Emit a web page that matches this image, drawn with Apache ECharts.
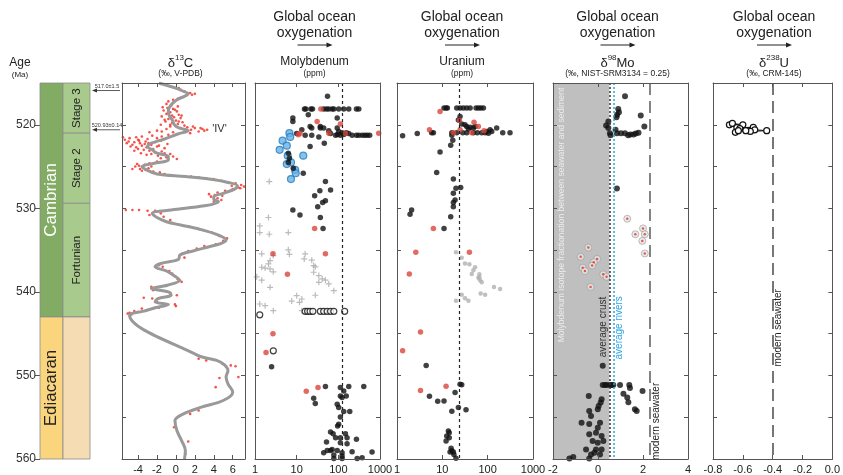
<!DOCTYPE html>
<html>
<head>
<meta charset="utf-8">
<script src="https://cdn.jsdelivr.net/npm/echarts@6/dist/echarts.min.js"></script>
<style>
  html, body { margin: 0; padding: 0; background: #fff; }
  #chart { width: 843px; height: 475px; }
</style>
</head>
<body>
<div id="chart"></div>
<script>
// ---- stratigraphy (ages in Ma) ----
const periodNames = ['Cambrian', 'Ediacaran'];
const periodTop = [515, 543];
const periodBase = [543, 560];
const stageNames = ['Stage 3', 'Stage 2', 'Fortunian', ''];
const stageTop = [515, 521, 529.4, 543];
const stageBase = [521, 529.4, 543, 560];
const dateLabels = ['517.0±1.5', '520.93±0.14'];
const dateAges = [515.9, 520.6];
const ageTicks = [520, 530, 540, 550, 560];

// ---- δ13C [value, age] ----
const c13Curve = [
  [-1.8, 515.0], [-0.9, 515.3], [0.2, 515.7], [0.6, 515.9], [1.3, 516.3], [0.9, 516.6], [0.1, 517.0],
  [-0.5, 517.6], [-0.8, 518.3], [-0.7, 518.9], [-0.4, 519.4], [-0.1, 520.1], [0.4, 520.4], [1.3, 520.7],
  [0.2, 521.1], [-1.2, 521.7], [-2.6, 522.2], [-3.0, 522.6], [-2.5, 523.0], [-2.0, 523.4], [-0.8, 523.8],
  [-0.8, 524.2], [-2.3, 524.6], [-3.6, 525.0], [-3.1, 525.4], [-2.0, 525.9], [1.0, 526.2], [3.5, 526.5],
  [5.5, 526.9], [6.5, 527.3], [6.2, 527.7], [5.0, 528.2], [4.0, 528.6], [4.0, 528.9], [4.5, 529.2],
  [3.0, 529.7], [-0.5, 530.2], [-2.5, 530.6], [-2.0, 531.1], [-1.0, 531.6], [0.5, 532.0], [2.5, 532.5],
  [4.5, 533.2], [5.3, 533.8], [4.8, 534.2], [3.5, 534.6], [1.8, 535.1], [0.4, 535.6], [0.3, 536.1],
  [-1.6, 536.6], [-2.2, 537.0], [-1.0, 537.5], [0.0, 538.2], [0.4, 538.6], [-0.9, 539.2], [-2.6, 539.6],
  [-0.8, 540.0], [-0.5, 540.4], [-1.9, 540.8], [-2.2, 541.2], [-0.8, 541.5], [-2.2, 541.9], [-3.4, 542.3],
  [-4.9, 542.8], [2.3, 547.6], [4.3, 548.2], [5.1, 548.7], [5.5, 549.4], [5.3, 550.2], [5.5, 551.0],
  [6.0, 552.0], [5.0, 553.0], [2.7, 553.8], [0.8, 554.6], [-0.1, 555.4], [0.1, 556.6], [0.6, 557.8],
  [1.0, 559.0], [0.9, 560.0]
];
const c13Red = [
  [-1.6, 515.1], [-1.2, 515.2], [-0.6, 515.4], [-0.2, 515.5], [0.3, 515.6], [0.5, 515.8], [0.9, 516.0],
  [1.5, 516.2], [2.0, 516.3], [1.7, 516.4], [1.1, 516.5], [0.6, 516.7], [0.2, 516.9], [-0.3, 517.0],
  [-0.8, 517.2], [-0.2, 517.3], [-1.0, 517.5], [-0.5, 517.7], [0.2, 517.8],
  [-0.9, 518.0], [-0.3, 518.1], [-1.3, 518.3], [0.1, 518.4], [-0.6, 518.5], [-1.0, 518.7], [0.3, 518.8],
  [-0.4, 518.9], [-1.5, 519.0], [-0.2, 519.1], [0.5, 519.2], [-0.8, 519.3], [0.0, 519.5], [-1.1, 519.6],
  [0.7, 519.7], [-0.4, 519.8], [0.2, 519.9], [-1.6, 520.0], [0.9, 520.1],
  [-1.4, 517.9], [-0.1, 518.2], [-0.8, 518.6], [0.6, 518.9], [-1.2, 519.4], [0.3, 519.6], [-0.6, 520.0],
  [1.8, 520.2], [2.6, 520.4], [3.0, 520.7], [-1.5, 520.8],
  [-0.6, 520.2], [1.2, 520.3], [2.0, 520.4], [0.5, 520.4], [2.8, 520.5], [3.3, 520.6], [1.6, 520.6],
  [-1.0, 520.5], [2.4, 520.8], [0.9, 520.8], [-2.0, 520.7], [-0.3, 520.9], [1.5, 521.0], [-2.8, 520.9],
  [-5.4, 521.8], [-4.9, 521.6], [-4.2, 521.5], [-3.6, 521.4], [-2.5, 521.3], [-1.5, 521.4], [-0.8, 521.2],
  [-5.0, 522.0], [-4.4, 522.1], [-3.9, 521.9], [-3.2, 522.0], [-2.9, 522.2], [-2.2, 522.1], [-1.6, 521.9],
  [-0.9, 522.3], [-4.6, 522.4], [-3.6, 522.5], [-2.6, 522.4], [-3.1, 522.7], [-2.0, 522.6], [-1.2, 522.8],
  [-4.0, 522.9], [-3.4, 523.0], [-2.8, 523.1], [-2.2, 523.3], [-1.5, 523.2], [-3.7, 523.4], [-0.6, 523.5],
  [-0.3, 523.8], [-1.0, 523.9], [-1.6, 524.0], [0.1, 524.1],
  [-5.6, 521.5], [-5.2, 522.2], [-4.8, 522.6], [-4.2, 522.7], [-3.8, 522.2], [-3.3, 522.3], [-2.4, 522.9],
  [-1.8, 522.5], [-2.6, 523.5], [-3.1, 523.6], [-1.9, 523.7], [-1.2, 523.4], [-4.4, 523.1], [-2.0, 521.6],
  [-3.0, 521.7], [-4.0, 521.8],
  [-2.0, 524.4], [-2.8, 524.6], [-3.3, 524.8], [-3.9, 524.9], [-4.3, 525.0], [-3.5, 525.1], [-2.9, 525.2],
  [-3.8, 525.3], [-3.2, 525.4], [-2.4, 525.6], [-4.6, 525.3], [-1.7, 525.7], [-1.2, 525.9],
  [-3.6, 525.5], [-2.6, 525.0], [-4.1, 524.7],
  [1.6, 526.2], [2.4, 526.3], [3.2, 526.4], [4.0, 526.5], [4.8, 526.7], [5.6, 526.9], [6.3, 527.0],
  [6.9, 527.2], [7.2, 527.4], [6.6, 527.5], [6.0, 527.7], [5.2, 527.9], [4.4, 528.1], [4.1, 528.4],
  [3.7, 528.6], [4.4, 528.8], [4.8, 529.0], [4.0, 529.2], [5.9, 527.3], [6.8, 527.6], [3.5, 528.3], [4.9, 528.5],
  [-5.3, 530.2], [-4.6, 530.2], [-3.9, 530.2], [-3.0, 530.3], [-2.2, 530.3], [-1.6, 530.6], [-2.8, 530.8],
  [-1.3, 531.0], [-0.6, 531.4],
  [0.2, 531.9], [1.4, 532.2], [2.8, 532.6], [3.8, 532.9], [4.6, 533.3], [5.4, 533.6], [5.0, 533.9],
  [4.2, 534.3], [3.0, 534.5], [2.2, 534.8], [1.3, 535.1], [0.7, 535.4], [0.9, 535.9],
  [-1.8, 536.8], [-2.2, 537.0], [-1.4, 537.0], [-0.7, 537.5], [-0.4, 537.8], [0.2, 538.5], [0.6, 538.8],
  [-1.0, 539.2], [-2.6, 539.4], [-2.4, 539.8], [-0.6, 540.1], [0.1, 540.4], [-3.4, 540.7], [-2.5, 540.8],
  [-2.0, 541.2], [-0.1, 541.5], [0.0, 541.7], [-1.8, 541.9], [-2.4, 542.0], [-3.6, 542.0], [-4.4, 542.3],
  [-4.9, 542.5], [-5.1, 542.6], [-4.7, 542.7], [-4.0, 542.4],
  [2.4, 548.0], [3.2, 548.2], [4.9, 548.6], [5.8, 548.8], [6.3, 548.9], [6.6, 550.2], [4.6, 550.3],
  [4.2, 551.4], [7.4, 552.8], [2.4, 554.2], [1.5, 554.6], [-0.2, 556.2], [1.3, 557.9], [1.0, 559.4]
];

// ---- Molybdenum (ppm) [value, age] ----
const moBlack = [
  [55, 516.6],
  [15.4, 518.1], [16.6, 518.1], [22, 518.1], [24, 518.1], [44.5, 518.1], [52, 518.1], [59, 518.1],
  [71, 518.1], [78, 518.1], [102, 518.1], [135, 518.1], [178, 518.1], [272, 518.1], [310, 518.1],
  [8.1, 519.2], [8.1, 519.6], [19, 518.8], [94, 519.2],
  [21, 520.2], [23, 520.4], [37, 520.2], [37, 520.4], [13.3, 520.6], [10, 521.05], [44.5, 520.4],
  [59, 520.7], [94, 520.4], [102, 520.8],
  [16, 521.25], [23, 521.25], [34, 521.45], [65, 521.05], [86, 521.25], [96, 521.15], [112, 521.25],
  [123, 520.95], [135, 521.15], [155, 520.96], [178, 521.05], [214, 521.25], [272, 521.25], [310, 521.25],
  [372, 521.25], [430, 521.25], [490, 521.25], [565, 521.25],
  [21, 522.6], [46, 522.2],
  [6.3, 523.4], [6.7, 524.0], [6.3, 524.5], [8.3, 525.2], [14.4, 525.8],
  [49, 526.8], [36, 527.9], [27, 528.5], [65, 527.8], [42, 529.3], [49, 529.1], [32, 529.8], [8.1, 530.2],
  [12, 530.8], [37, 531.1], [43, 532.4],
  [2.5, 548.97], [49, 551.33], [112, 551.45], [135, 551.85], [178, 551.33], [408, 551.33], [112, 552.45],
  [25.6, 552.73], [28, 553.37], [123, 552.65], [155, 552.45], [94, 553.45], [102, 553.85], [135, 554.33],
  [188, 554.33], [112, 554.97], [96, 556.05], [102, 555.85], [65, 556.77], [75, 556.97], [148, 556.97],
  [52, 557.97], [86, 557.45], [112, 557.45], [162, 557.45], [272, 557.65], [112, 558.05], [162, 558.17],
  [71, 558.85], [65, 558.97], [54, 558.97], [44.5, 559.25], [94, 558.97], [123, 559.25], [214, 559.13],
  [78, 559.53], [123, 559.65], [645, 559.17], [372, 559.85], [78, 559.95], [123, 559.95], [283, 559.95]
];
const moRed = [
  [38, 518.1], [31, 519.6], [112, 519.9], [11, 521.2], [12, 521.0], [59, 521.0], [148, 521.0], [930, 521.0],
  [27, 532.4], [2.7, 535.45], [49, 535.45], [6.0, 537.9], [2.7, 545.0], [1.84, 547.25], [17, 551.9],
  [32.5, 551.45]
];
const moBlue = [
  [6.7, 521.0], [7.0, 521.45], [4.6, 521.9], [5.8, 522.5], [3.9, 523.0], [6.1, 523.7], [14.4, 523.7],
  [7.3, 524.5], [5.8, 524.7], [9.2, 525.4], [9.5, 525.8], [7.3, 526.5]
];
const moCross = [
  [2.2, 526.8], [2.1, 531.1], [1.3, 532.1], [1.3, 532.9], [2.2, 533.1], [6.3, 532.9],
  [1.45, 535.45], [2.75, 535.65], [6.3, 534.97], [6.7, 535.5], [16, 535.45], [15.2, 536.05], [23, 536.2],
  [25.6, 536.85], [28, 537.0], [2.3, 536.25], [2.1, 536.65], [1.45, 537.05], [1.75, 537.15], [2.3, 537.25],
  [2.75, 537.6], [1.1, 538.2], [1.45, 538.6], [25.6, 537.65], [34, 538.05], [41, 538.45], [34, 538.85],
  [49, 538.6], [59, 539.05], [78, 539.85], [2.3, 539.45], [10, 540.45], [13.3, 540.85], [7.6, 541.1],
  [11.7, 541.25], [28, 540.4], [1.3, 541.45], [1.75, 541.65], [2.75, 542.25], [13.3, 542.25]
];
const moOpen = [
  [16, 542.33], [18.3, 542.33], [21, 542.33], [24.5, 542.33], [37, 542.33], [44.5, 542.33], [54, 542.33],
  [65, 542.33], [78, 542.33], [142, 542.33], [1.3, 542.75], [2.75, 547.05]
];
const moRef = 125;

// ---- Uranium (ppm) [value, age] ----
const uBlack = [
  [10.9, 518.0], [12.1, 518.0], [12.9, 518.0], [20.8, 518.0], [24.6, 518.0], [29, 518.0], [34.5, 518.0],
  [41, 518.0], [55.5, 518.0], [62.4, 518.0], [70.6, 518.0], [80.5, 518.0],
  [24.6, 519.0], [22.6, 519.44], [26.8, 519.9], [31.6, 520.0], [34.5, 520.2], [41, 520.3], [48.4, 520.4],
  [37.6, 520.5], [52.7, 520.2], [158, 520.4], [113, 520.6], [123, 520.8], [95.5, 520.8], [104, 521.0],
  [88, 520.96], [74, 520.96], [59, 520.96], [48.4, 520.96], [34.5, 520.96], [28.2, 520.96], [20.8, 520.96],
  [16.2, 520.96], [16.2, 521.25], [17, 521.85], [15.3, 522.45], [8.9, 523.25], [6.35, 520.96], [5.8, 520.96],
  [2.8, 521.05], [1.33, 521.3], [215, 520.96], [311, 520.96],
  [7.5, 525.7], [17.5, 526.5], [20, 527.6], [25.4, 527.5], [17.5, 528.2], [19.1, 529.0], [17.5, 529.3],
  [17.5, 529.8], [2.1, 530.2], [1.94, 530.7], [15.3, 531.0], [10.9, 532.4],
  [4.4, 548.8], [26.8, 551.1], [24.6, 551.05], [19.1, 552.05], [5.2, 552.5], [7.9, 553.1], [10.9, 553.05],
  [16.2, 554.3], [22.6, 553.85], [33.3, 554.1], [13.6, 556.65], [14.2, 556.85], [12.5, 557.25],
  [12.1, 557.85], [14.2, 557.45], [15.6, 558.7], [16.2, 559.0], [17.5, 559.15], [14.8, 559.15],
  [18, 559.45], [20, 559.9]
];
const uRed = [
  [8.9, 518.4], [23.8, 519.5], [50, 519.7], [62.4, 520.2], [24.6, 520.6], [44.5, 520.96], [83, 520.7],
  [17.5, 520.96], [5.2, 520.6], [6.35, 532.4],
  [2.6, 535.25], [39.5, 535.25], [1.87, 537.85], [3.3, 544.8], [1.33, 547.05], [3.3, 551.8], [12.1, 551.3]
];
const uGray = [
  [20, 535.25], [26.8, 535.9], [31.6, 536.6], [39.5, 536.7], [44.5, 537.85], [48.4, 537.4], [52.7, 537.05],
  [65.6, 537.9], [62.4, 538.3], [68, 538.6], [74, 538.85], [138, 539.4], [188, 539.65], [70, 540.2],
  [88, 540.35], [20, 541.05], [26.8, 540.35], [31.6, 540.75], [37.6, 541.05], [65.6, 538.25]
];
const uRef = 24;

// ---- δ98Mo [value, age] ----
const mo98Black = [
  [1.2, 516.6], [0.9, 518.1], [0.93, 518.5], [0.85, 518.8], [0.82, 519.1], [1.9, 518.9], [0.46, 519.6],
  [0.36, 520.1], [0.46, 520.4], [0.53, 521.0], [0.56, 521.25], [0.78, 520.6], [0.84, 521.0], [1.02, 521.0],
  [1.2, 521.0], [1.34, 521.25], [1.44, 521.15], [1.58, 521.15], [1.68, 521.05], [1.8, 520.96], [2.06, 520.2],
  [0.84, 527.64],
  [0.21, 548.85], [0.21, 551.13], [0.31, 551.13], [0.39, 551.13], [0.53, 551.13], [0.61, 551.13],
  [0.68, 551.13], [0.98, 551.13], [1.39, 551.13], [1.42, 551.5], [1.13, 552.2], [1.3, 552.65], [1.35, 553.2],
  [1.98, 551.85], [1.64, 554.05], [1.72, 554.25],
  [-0.41, 552.45], [0.16, 552.85], [0.12, 553.25], [0.03, 553.65], [-0.01, 554.05], [-0.39, 554.25],
  [-0.73, 555.65], [-0.31, 554.85], [-0.39, 555.8], [0.09, 555.65], [-0.01, 556.25], [-0.09, 556.85],
  [-0.39, 557.05], [0.16, 557.25], [-0.24, 557.85], [-0.01, 558.05], [0.24, 557.85], [-0.53, 558.85],
  [-0.09, 558.85], [0.16, 558.85], [-0.31, 559.45], [-0.16, 559.25], [-1.1, 559.75], [-1.27, 559.95],
  [-0.39, 559.95], [0.09, 559.45]
];
const mo98Gray = [
  [1.3, 531.25], [2.0, 532.4], [1.66, 533.1], [2.08, 533.1], [1.97, 533.9], [2.08, 535.4], [-0.43, 534.7],
  [-0.77, 535.8], [-0.04, 536.05], [-0.19, 536.45], [-0.26, 536.85], [-0.68, 537.1], [-0.58, 537.5],
  [0.23, 537.9], [0.38, 538.2], [-0.33, 539.4]
];
const mo98ShadeMax = 0.5;
const mo98Crust = 0.5;
const mo98Rivers = 0.7;
const mo98Sea = 2.3;

// ---- δ238U [value, age] ----
const u238Pts = [
  [-0.69, 520.0], [-0.67, 519.84], [-0.60, 520.0], [-0.64, 520.35], [-0.53, 520.3], [-0.62, 520.45],
  [-0.52, 520.6], [-0.44, 520.7], [-0.55, 520.8], [-0.58, 520.7], [-0.65, 520.9], [-0.63, 520.7]
];
const u238Sea = -0.4;

// ---------------------------------------------------------------
const FONT = 'Liberation Sans, Arial, sans-serif';
const TOP = 83, HEIGHT = 376;
const panels = [
  { left: 122, width: 123, type: 'value', min: -5.7, max: 7.3, custom: [-4, -2, 0, 2, 4, 6],
    title: ['δ', '13', 'C'], unit: '(‰, V-PDB)', header: false },
  { left: 255, width: 125, type: 'log', min: 1, max: 1000, title: ['Molybdenum'], unit: '(ppm)', header: true },
  { left: 397, width: 136, type: 'log', min: 1, max: 1000, title: ['Uranium'], unit: '(ppm)', header: true },
  { left: 553, width: 135, type: 'value', min: -2, max: 4, interval: 2,
    title: ['δ', '98', 'Mo'], unit: '(‰, NIST-SRM3134 = 0.25)', header: true },
  { left: 713, width: 128, type: 'value', min: -0.8, max: 0, interval: 0.2,
    title: ['δ', '238', 'U'], unit: '(‰, CRM-145)', header: true }
];

const frame = { show: true, onZero: false, lineStyle: { color: '#555', width: 1 } };
const tickIn = { show: true, inside: true, length: 4, lineStyle: { color: '#555' } };

const grids = [{ left: 40, top: TOP, width: 50, height: HEIGHT }]
  .concat(panels.map(p => ({ left: p.left, top: TOP, width: p.width, height: HEIGHT })));

const xAxes = [{ type: 'value', gridIndex: 0, min: 0, max: 1, show: false }];
const yAxes = [{
  type: 'value', gridIndex: 0, min: 515, max: 560, inverse: true,
  axisLine: { show: false, onZero: false },
  axisTick: { show: true, inside: false, length: 5, customValues: ageTicks, lineStyle: { color: '#555' } },
  axisLabel: { customValues: ageTicks, fontSize: 12, color: '#333', fontFamily: FONT, margin: 4 },
  splitLine: { show: false }
}];

const fmt = (p) => (v) => {
  if (p.type === 'log') return String(Math.round(v));
  if (p.interval === 0.2) return Math.abs(v) < 1e-9 ? '0.0' : v.toFixed(1);
  return String(Math.round(v));
};

panels.forEach((p, i) => {
  const g = i + 1;
  const base = { type: p.type, gridIndex: g, min: p.min, max: p.max, splitLine: { show: false }, axisLine: frame, z: 10 };
  if (p.type === 'log') base.logBase = 10;
  if (p.interval) base.interval = p.interval;
  const tk = Object.assign({}, tickIn, p.custom ? { customValues: p.custom } : {});
  xAxes.push(Object.assign({}, base, {
    position: 'bottom', axisTick: tk,
    axisLabel: Object.assign({ fontSize: 11, color: '#222', fontFamily: FONT, margin: 5,
      showMinLabel: true, showMaxLabel: true, formatter: fmt(p) }, p.custom ? { customValues: p.custom } : {})
  }));
  xAxes.push(Object.assign({}, base, { position: 'top', axisTick: tk, axisLabel: { show: false } }));
  const yb = { type: 'value', gridIndex: g, min: 515, max: 560, interval: 5, inverse: true,
    axisLine: frame, axisTick: tickIn, axisLabel: { show: false }, splitLine: { show: false }, z: 10 };
  yAxes.push(Object.assign({}, yb, { position: 'left' }));
  yAxes.push(Object.assign({}, yb, { position: 'right' }));
});

const ax = (i) => ({ xAxisIndex: 1 + 2 * i, yAxisIndex: 1 + 2 * i });
const scatter = (i, data, size, itemStyle, extra) =>
  Object.assign({ type: 'scatter', data, symbolSize: size, itemStyle, silent: true }, ax(i), extra || {});

const plusPath = 'path://M0,4H10V6H0Z M4,0H6V10H4Z';
const vline = (x, color, type, width) => ({
  symbol: 'none', silent: true, label: { show: false },
  lineStyle: { color, type, width }, data: [{ xAxis: x }]
});

// stratigraphy boxes
const stratColors = { Cambrian: '#82ab63', Ediacaran: '#fbd57e' };
const stageColors = ['#a9ca8d', '#a9ca8d', '#a9ca8d', '#f6dcb2'];
const stratData = [];
periodNames.forEach((n, k) => stratData.push({ name: n, value: [0, 0.46, periodTop[k], periodBase[k]],
  itemStyle: { color: stratColors[n] } }));
stageNames.forEach((n, k) => stratData.push({ name: n, value: [0.46, 1, stageTop[k], stageBase[k]],
  itemStyle: { color: stageColors[k] } }));

const series = [
  {
    type: 'custom', xAxisIndex: 0, yAxisIndex: 0, data: stratData, silent: true,
    renderItem: (params, api) => {
      const p0 = api.coord([api.value(0), api.value(2)]);
      const p1 = api.coord([api.value(1), api.value(3)]);
      const name = stratData[params.dataIndex].name;
      const isPeriod = name === 'Cambrian' || name === 'Ediacaran';
      return {
        type: 'group',
        children: [
          { type: 'rect', shape: { x: p0[0], y: p0[1], width: p1[0] - p0[0], height: p1[1] - p0[1] },
            style: { fill: api.visual('color'), stroke: '#8c8c8c', lineWidth: 0.8 } },
          { type: 'text', x: (p0[0] + p1[0]) / 2, y: (p0[1] + p1[1]) / 2, rotation: Math.PI / 2,
            style: { text: name, fill: name === 'Cambrian' ? '#fff' : '#222', align: 'center', verticalAlign: 'middle',
              fontSize: isPeriod ? 17 : 11.5, fontFamily: FONT } }
        ]
      };
    }
  },
  {
    type: 'custom', xAxisIndex: 0, yAxisIndex: 0, silent: true,
    data: dateAges.map((a, k) => ({ value: [1, a], name: dateLabels[k] })),
    renderItem: (params, api) => {
      const p = api.coord([api.value(0), api.value(1)]);
      const x0 = p[0] + 2, x1 = p[0] + 30, y = p[1];
      return {
        type: 'group',
        children: [
          { type: 'line', shape: { x1: x0 + 4, y1: y, x2: x1, y2: y }, style: { stroke: '#333', lineWidth: 0.8 } },
          { type: 'polygon', shape: { points: [[x0, y], [x0 + 5, y - 2], [x0 + 5, y + 2]] }, style: { fill: '#333' } },
          { type: 'text', x: (x0 + x1) / 2 + 1, y: y - 4,
            style: { text: dateLabels[params.dataIndex], fill: '#333', fontSize: 5.5, fontFamily: FONT,
              align: 'center', verticalAlign: 'middle' } }
        ]
      };
    }
  },
  // δ13C
  scatter(0, c13Red, 2.6, { color: '#f3281c' }),
  Object.assign({ type: 'line', data: c13Curve, symbol: 'none', smooth: 0.35, silent: true,
    lineStyle: { color: '#999', width: 3 }, z: 3 }, ax(0)),
  // Mo
  scatter(1, moCross, 6, { color: '#aaa' }, { symbol: plusPath }),
  scatter(1, moOpen, 6, { color: '#fff', borderColor: '#111', borderWidth: 1.2 }),
  scatter(1, moBlue, 7, { color: '#64b3e6', borderColor: '#2b7bbf', borderWidth: 1.2 }),
  scatter(1, moBlack, 5.5, { color: '#111' }, { markLine: vline(moRef, '#222', [3, 3], 1.2) }),
  scatter(1, moRed, 5.5, { color: '#d9463c' }),
  // U
  scatter(2, uGray, 4.5, { color: '#b0b0b0' }),
  scatter(2, uBlack, 5.5, { color: '#111' }, { markLine: vline(uRef, '#222', [3, 3], 1.2) }),
  scatter(2, uRed, 5.5, { color: '#d9463c' }),
  // δ98Mo
  scatter(3, [], 1, { color: '#000' }, {
    markArea: { silent: true, itemStyle: { color: '#bfbfbf' }, data: [[{ xAxis: -2 }, { xAxis: mo98ShadeMax }]] },
    markLine: { symbol: 'none', silent: true, label: { show: false }, data: [
      { xAxis: mo98Crust, lineStyle: { color: '#333', type: [2, 2], width: 1.5 } },
      { xAxis: mo98Rivers, lineStyle: { color: '#2aa4e4', type: [2, 2], width: 1.5 } },
      { xAxis: mo98Sea, lineStyle: { color: '#666', type: [12, 6], width: 1.6 } }
    ] }
  }),
  scatter(3, mo98Gray, 7, { color: '#e6e6e6', borderColor: '#999', borderWidth: 0.8 }),
  scatter(3, mo98Gray, 2.5, { color: '#e0382c' }),
  scatter(3, mo98Black, 6, { color: '#111' }),
  // δ238U
  Object.assign({ type: 'line', data: u238Pts, symbol: 'circle', symbolSize: 6, silent: true,
    lineStyle: { color: '#111', width: 1 }, itemStyle: { color: '#fff', borderColor: '#111', borderWidth: 1.2 },
    markLine: vline(u238Sea, '#555', [12, 6], 1.6) }, ax(4))
];

const chart = echarts.init(document.getElementById('chart'), null, { renderer: 'canvas' });
chart.setOption({
  animation: false,
  backgroundColor: '#fff',
  grid: grids,
  xAxis: xAxes,
  yAxis: yAxes,
  series
});

// headers and annotations
const txt = (x, y, text, size, extra) => Object.assign({
  type: 'text', x, y, silent: true,
  style: Object.assign({ text, fill: '#222', fontSize: size, fontFamily: FONT, align: 'center', verticalAlign: 'middle' },
    extra || {})
});
const graphics = [txt(20, 63, 'Age', 12), txt(20, 75, '(Ma)', 8)];
panels.forEach((p) => {
  const cx = p.left + p.width / 2 - 3;
  if (p.header) {
    graphics.push(txt(cx, 17, 'Global ocean', 14), txt(cx, 33, 'oxygenation', 14));
    graphics.push({ type: 'line', silent: true, shape: { x1: cx - 17, y1: 45, x2: cx + 13, y2: 45 },
      style: { stroke: '#222', lineWidth: 1 } });
    graphics.push({ type: 'polygon', silent: true, shape: { points: [[cx + 18, 45], [cx + 12, 42.5], [cx + 12, 47.5]] },
      style: { fill: '#222' } });
  }
  if (p.title.length === 3) {
    graphics.push({ type: 'text', x: cx, y: 62, silent: true, style: {
      text: '{b|' + p.title[0] + '}{s|' + p.title[1] + '}{b|' + p.title[2] + '}',
      align: 'center', verticalAlign: 'middle',
      rich: {
        b: { fontSize: 13, fontFamily: FONT, fill: '#222', color: '#222', lineHeight: 16, verticalAlign: 'bottom' },
        s: { fontSize: 8, fontFamily: FONT, fill: '#222', color: '#222', lineHeight: 16, verticalAlign: 'top' }
      } } });
  } else {
    graphics.push(txt(cx, 62, p.title[0], 12));
  }
  graphics.push(txt(cx, 74, p.unit, 8.5));
});

const notes = [
  { panel: 0, x: 4.6, age: 520.5, text: "'IV'", size: 11, color: '#333', rot: 0 },
  { panel: 3, x: -1.6, age: 530.8, text: 'Molybdenum isotope fractionation between seawater and sediment',
    size: 8.6, color: '#ececec', rot: Math.PI / 2 },
  { panel: 3, x: 0.25, age: 544.2, text: 'average crust', size: 10, color: '#333', rot: Math.PI / 2 },
  { panel: 3, x: 0.95, age: 544.3, text: 'average rivers', size: 10, color: '#2aa4e4', rot: Math.PI / 2 },
  { panel: 3, x: 2.6, age: 555.5, text: 'modern seawater', size: 10, color: '#222', rot: Math.PI / 2 },
  { panel: 4, x: -0.36, age: 544.3, text: 'modern seawater', size: 10, color: '#222', rot: Math.PI / 2 }
];
notes.forEach((n) => {
  const pt = chart.convertToPixel(ax(n.panel), [n.x, n.age]);
  graphics.push({ type: 'text', x: pt[0], y: pt[1], rotation: n.rot, silent: true, z: 100,
    style: { text: n.text, fill: n.color, fontSize: n.size, fontFamily: FONT, align: 'center', verticalAlign: 'middle' } });
});

chart.setOption({ graphic: graphics });
</script>
</body>
</html>
